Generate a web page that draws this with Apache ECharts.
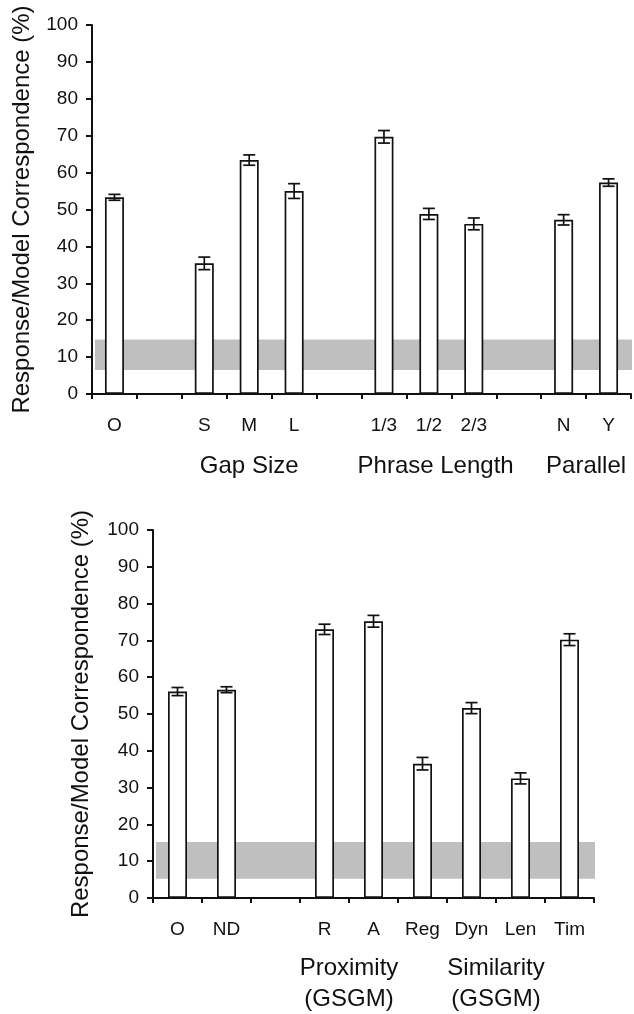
<!DOCTYPE html>
<html><head><meta charset="utf-8">
<script src="https://cdn.jsdelivr.net/npm/echarts@6/dist/echarts.min.js"></script>
<style>html,body{margin:0;padding:0;background:#fff}#c{width:634px;height:1014px}</style>
</head><body><div id="c"></div>
<script>
// ---------- data ----------
const yTicks = [0, 10, 20, 30, 40, 50, 60, 70, 80, 90, 100];
const yTitle = 'Response/Model Correspondence (%)';

const topCategories = ['O', '', 'S', 'M', 'L', '', '1/3', '1/2', '2/3', '', 'N', 'Y'];
const topValues     = [53.3, null, 35.4, 63.4, 55.0, null, 69.7, 48.8, 46.1, null, 47.2, 57.3];
const topErrors     = [0.8, null, 1.7, 1.4, 2.0, null, 1.7, 1.5, 1.6, null, 1.4, 1.0];
const topBand       = [6.5, 14.8];
const topGroups     = [
  { text: 'Gap Size', from: 3, to: 3 },
  { text: 'Phrase Length', from: 6.15, to: 8.15 },
  { text: 'Parallel', from: 10, to: 11 }
];

const botCategories = ['O', 'ND', '', 'R', 'A', 'Reg', 'Dyn', 'Len', 'Tim'];
const botValues     = [56.1, 56.6, null, 73.0, 75.2, 36.5, 51.6, 32.5, 70.2];
const botErrors     = [1.1, 0.8, null, 1.4, 1.6, 1.7, 1.5, 1.5, 1.6];
const botBand       = [5.2, 15.2];
const botGroups     = [
  { text: 'Proximity\n(GSGM)', from: 3, to: 4 },
  { text: 'Similarity\n(GSGM)', from: 6, to: 7 }
];

// ---------- helpers ----------
const FONT = '"Liberation Sans", Arial, Helvetica, sans-serif';
const INK = '#111';

function errData(values, errs) {
  const out = [];
  values.forEach((v, i) => { if (v != null && errs[i] != null) out.push([i, v, errs[i]]); });
  return out;
}
function errRender(params, api) {
  const x = api.value(0), v = api.value(1), e = api.value(2);
  const hi = api.coord([x, v + e]);
  const lo = api.coord([x, v - e]);
  const hw = 6;
  const st = { stroke: INK, lineWidth: 1.7 };
  return {
    type: 'group',
    children: [
      { type: 'line', shape: { x1: hi[0], y1: hi[1], x2: lo[0], y2: lo[1] }, style: st },
      { type: 'line', shape: { x1: hi[0] - hw, y1: hi[1], x2: hi[0] + hw, y2: hi[1] }, style: st },
      { type: 'line', shape: { x1: lo[0] - hw, y1: lo[1], x2: lo[0] + hw, y2: lo[1] }, style: st }
    ]
  };
}
function bandRender(params, api) {
  const cs = params.coordSys;
  const yHi = api.coord([0, api.value(2)])[1];
  const yLo = api.coord([0, api.value(1)])[1];
  return {
    type: 'rect',
    shape: { x: cs.x + 3, y: yHi, width: cs.width - 2, height: yLo - yHi },
    style: { fill: '#bfbfbf' }
  };
}

function xAxis(gridIndex, cats) {
  return {
    type: 'category', gridIndex, data: cats, boundaryGap: true,
    axisLine: { lineStyle: { color: INK, width: 2 } },
    axisTick: { show: true, length: 5, interval: 0, lineStyle: { color: INK, width: 2 } },
    axisLabel: { interval: 0, margin: 22, color: INK, fontSize: 19, fontFamily: FONT },
    splitLine: { show: false }
  };
}
function yAxis(gridIndex, gap) {
  return {
    type: 'value', gridIndex, min: yTicks[0], max: yTicks[yTicks.length - 1],
    interval: yTicks[1] - yTicks[0],
    name: yTitle, nameLocation: 'middle', nameRotate: 90, nameGap: gap,
    nameTextStyle: { color: INK, fontSize: 24, fontFamily: FONT },
    axisLine: { show: true, lineStyle: { color: INK, width: 2 } },
    axisTick: { show: true, length: 6, lineStyle: { color: INK, width: 2 } },
    axisLabel: { margin: 14, color: INK, fontSize: 19, fontFamily: FONT },
    splitLine: { show: false }
  };
}

const chart = echarts.init(document.getElementById('c'), null, { renderer: 'canvas' });

const option = {
  animation: false,
  backgroundColor: '#fff',
  grid: [
    { left: 92, top: 25, width: 539, height: 369, containLabel: false },
    { left: 153, top: 530, width: 441, height: 368, containLabel: false }
  ],
  xAxis: [xAxis(0, topCategories), xAxis(1, botCategories)],
  yAxis: [yAxis(0, 58), yAxis(1, 60)],
  series: [
    { type: 'custom', xAxisIndex: 0, yAxisIndex: 0, z: 1, silent: true,
      data: [[0, topBand[0], topBand[1]]], encode: { x: 0, y: [1, 2] }, renderItem: bandRender },
    { type: 'bar', xAxisIndex: 0, yAxisIndex: 0, z: 2, barWidth: 19, data: topValues,
      itemStyle: { color: '#fff', borderColor: INK, borderWidth: 1.7 } },
    { type: 'custom', xAxisIndex: 0, yAxisIndex: 0, z: 3, silent: true,
      data: errData(topValues, topErrors), encode: { x: 0, y: 1 }, renderItem: errRender },

    { type: 'custom', xAxisIndex: 1, yAxisIndex: 1, z: 1, silent: true,
      data: [[0, botBand[0], botBand[1]]], encode: { x: 0, y: [1, 2] }, renderItem: bandRender },
    { type: 'bar', xAxisIndex: 1, yAxisIndex: 1, z: 2, barWidth: 19, data: botValues,
      itemStyle: { color: '#fff', borderColor: INK, borderWidth: 1.7 } },
    { type: 'custom', xAxisIndex: 1, yAxisIndex: 1, z: 3, silent: true,
      data: errData(botValues, botErrors), encode: { x: 0, y: 1 }, renderItem: errRender }
  ]
};
chart.setOption(option);

// group labels positioned through the axes
function groupGraphics(axisIdx, groups, dy, lineHeight) {
  const y0 = chart.convertToPixel({ yAxisIndex: axisIdx }, 0);
  return groups.map(g => {
    const a = chart.convertToPixel({ xAxisIndex: axisIdx }, Math.floor(g.from));
    const b = chart.convertToPixel({ xAxisIndex: axisIdx }, Math.floor(g.to));
    const step = chart.convertToPixel({ xAxisIndex: axisIdx }, 1) - chart.convertToPixel({ xAxisIndex: axisIdx }, 0);
    const fa = a + (g.from - Math.floor(g.from)) * step;
    const fb = b + (g.to - Math.floor(g.to)) * step;
    return {
      type: 'text', x: (fa + fb) / 2, y: y0 + dy,
      style: { text: g.text, fill: INK, font: '24px ' + FONT, align: 'center', verticalAlign: 'middle', lineHeight: lineHeight }
    };
  });
}
chart.setOption({
  graphic: [].concat(groupGraphics(0, topGroups, 72, 30), groupGraphics(1, botGroups, 86, 31))
});
</script>
</body></html>
